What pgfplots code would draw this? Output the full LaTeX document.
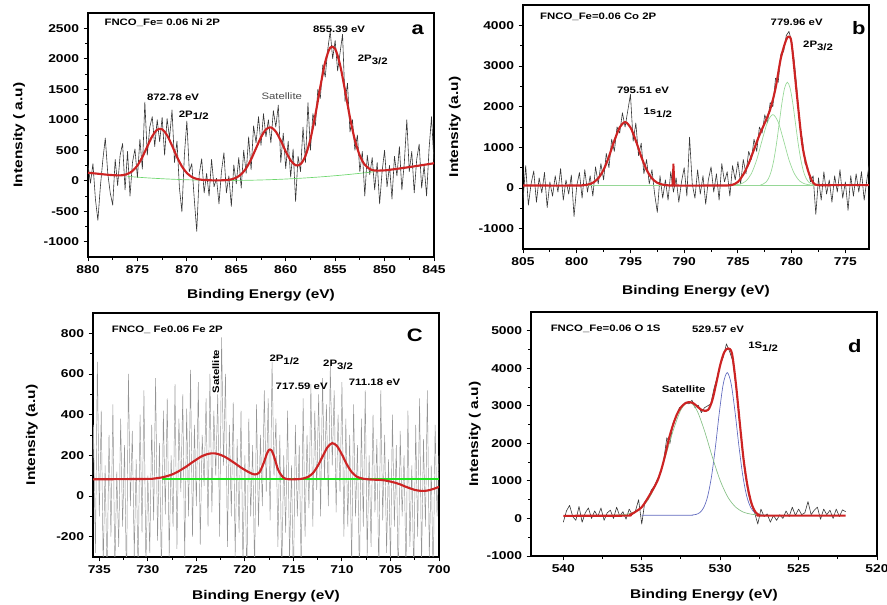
\documentclass[border=0pt]{standalone}
\usepackage{fontspec}
\setmainfont{Liberation Sans}[FakeStretch=1.22]
\usepackage{pgfplots}
\pgfplotsset{compat=1.18}

\definecolor{fitred}{RGB}{205,35,35}
\definecolor{basegreen}{RGB}{110,215,110}
\definecolor{compgreen}{RGB}{150,215,150}
\definecolor{brightgreen}{RGB}{30,230,30}
\definecolor{compblue}{RGB}{95,105,190}
\definecolor{datagray}{RGB}{55,55,55}

\newcommand{\sub}[1]{\raisebox{-0.55ex}{#1}}

\tikzset{
  pk/.style={font=\bfseries\fontsize{7}{8}\selectfont},
  ttl/.style={font=\bfseries\fontsize{7}{8}\selectfont, anchor=west},
  letter/.style={font=\bfseries\fontsize{13.5}{14}\selectfont},
}

\pgfplotsset{
  xpspanel/.style={
    scale only axis, width=259.5pt, height=183pt, anchor=north west,
    x dir=reverse, tick align=outside, tick pos=left, minor tick num=1,
    axis line style={line width=0.9pt},
    every tick/.append style={line width=0.7pt, black},
    major tick length=3.2pt, minor tick length=2pt,
    tick label style={font=\bfseries\fontsize{8.5}{9}\selectfont},
    /pgf/number format/assume math mode=true,
    /pgf/number format/1000 sep={},
    label style={font=\bfseries\fontsize{9.5}{11}\selectfont},
    xlabel={Binding Energy (eV)},
  },
  datastyle/.style={draw=datagray, line width=0.45pt, line join=round},
  fitstyle/.style={draw=fitred, line width=1.6pt, line join=round, smooth},
}

\begin{document}
\begin{tikzpicture}
\useasboundingbox (0,0) rectangle (665.25pt,-453.75pt);

% ---------------- (a) Ni 2p ----------------
\begin{axis}[xpspanel, at={(66pt,-9.75pt)},
  xmin=845, xmax=880, ymin=-1250, ymax=2750,
  xtick={845,850,...,880}, ytick={-1000,-500,...,2500},
  ylabel={Intensity ( a.u)},
  x label style={at={(axis description cs:0.5,-0.155)}, anchor=center},
  y label style={at={(axis description cs:-0.199,0.5)}, anchor=center}]
\addplot[datastyle] coordinates {
(880,260)(879.75,-40)(879.5,280)(879.25,-300)(879,-650)(878.75,-100)(878.5,340)(878.25,700)(878,120)(877.75,-200)(877.5,-400)(877.25,350)(877,-80)(876.75,420)(876.5,610)(876.25,-150)(876,480)(875.75,-250)(875.5,300)(875.25,520)(875,50)(874.75,680)(874.5,190)(874.25,1290)(874,420)(873.75,880)(873.5,1050)(873.25,560)(873,1000)(872.75,640)(872.5,1040)(872.25,420)(872,1020)(871.75,700)(871.5,1160)(871.25,300)(871,650)(870.75,-120)(870.5,-510)(870.25,420)(870,980)(869.75,150)(869.5,280)(869.25,-300)(869,-830)(868.75,100)(868.5,360)(868.25,-200)(868,120)(867.75,-250)(867.5,350)(867.25,-100)(867,40)(866.75,-380)(866.5,150)(866.25,460)(866,-200)(865.75,80)(865.5,-420)(865.25,260)(865,-50)(864.75,380)(864.5,-120)(864.25,500)(864,120)(863.75,720)(863.5,180)(863.25,900)(863,620)(862.75,1050)(862.5,580)(862.25,1100)(862,720)(861.75,1000)(861.5,620)(861.25,1150)(861,880)(860.75,1240)(860.5,300)(860.25,780)(860,200)(859.75,650)(859.5,60)(859.25,520)(859,-340)(858.75,400)(858.5,150)(858.25,880)(858,300)(857.75,1280)(857.5,500)(857.25,1100)(857,900)(856.75,1500)(856.5,1350)(856.25,1900)(856,1700)(855.75,2150)(855.5,2450)(855.25,2000)(855,2300)(854.75,1800)(854.5,2100)(854.25,2400)(854,1300)(853.75,1600)(853.5,800)(853.25,1000)(853,500)(852.75,750)(852.5,150)(852.25,480)(852,-250)(851.75,420)(851.5,100)(851.25,380)(851,-150)(850.75,300)(850.5,-380)(850.25,150)(850,500)(849.75,-100)(849.5,250)(849.25,-300)(849,400)(848.75,80)(848.5,560)(848.25,-150)(848,300)(847.75,1000)(847.5,150)(847.25,480)(847,-200)(846.75,350)(846.5,600)(846.25,-120)(846,250)(845.75,-250)(845.5,520)(845.25,1050)(845,300)};
\addplot[draw=basegreen, line width=0.5pt, smooth] coordinates {
(876,71)(874,47)(872,29)(870,16)(868,8)(866,5)(864,7)(862,15)(860,28)(858,46)(856,69)(854,97)(852,130)(851,149)};
\addplot[fitstyle] coordinates {
(880,132)(879.5,123)(879,115)(878.5,106)(878,98)(877.5,92)(877,88)(876.5,91)(876,112)(875.5,160)(875,250)(874.5,389)(874,562)(873.5,730)(873,837)(872.5,844)(872,746)(871.5,577)(871,392)(870.5,235)(870,127)(869.5,62)(869,30)(868.5,16)(868,10)(867.5,7)(867,6)(866.5,7)(866,11)(865.5,23)(865,51)(864.5,107)(864,205)(863.5,351)(863,533)(862.5,712)(862,841)(861.5,876)(861,805)(860.5,657)(860,482)(859.5,334)(859,254)(858.5,271)(858,409)(857.5,683)(857,1080)(856.5,1539)(856,1949)(855.5,2183)(855,2163)(854.5,1898)(854,1481)(853.5,1036)(853,665)(852.5,409)(852,262)(851.5,193)(851,168)(850,170)(849,190)(848,212)(847,236)(846,261)(845,287)};
\node[ttl] at (axis cs:878.8,2590) {FNCO\_Fe= 0.06 Ni 2P};
\node[pk] at (axis cs:854.6,2487) {855.39 eV};
\node[pk] at (axis cs:851.2,1980) {2P\sub{3/2}};
\node[pk] at (axis cs:871.4,1375) {872.78 eV};
\node[pk] at (axis cs:869.3,1073) {2P\sub{1/2}};
\node[font=\fontsize{7}{8}\selectfont, text=black!70] at (axis cs:860.4,1386) {Satellite};
\node[letter] at (axis cs:846.65,2475) {a};
\end{axis}

% ---------------- (b) Co 2p ----------------
\begin{axis}[xpspanel, at={(392.25pt,-3.75pt)},
  xmin=772.8, xmax=805, ymin=-1500, ymax=4500,
  xtick={775,780,...,805}, ytick={-1000,0,...,4000},
  ylabel={Intensity (a.u)},
  x label style={at={(axis description cs:0.5,-0.173)}, anchor=center},
  y label style={at={(axis description cs:-0.197,0.5)}, anchor=center}]
\addplot[datastyle] coordinates {
(805,-300)(804.75,550)(804.5,-420)(804.25,100)(804,420)(803.75,-350)(803.5,250)(803.25,-120)(803,380)(802.75,-480)(802.5,150)(802.25,-200)(802,300)(801.75,-100)(801.5,480)(801.25,-300)(801,200)(800.75,-150)(800.5,320)(800.25,-700)(800,50)(799.75,380)(799.5,-250)(799.25,450)(799,-100)(798.75,300)(798.5,-200)(798.25,520)(798,100)(797.75,600)(797.5,200)(797.25,850)(797,500)(796.75,1200)(796.5,900)(796.25,1500)(796,1350)(795.75,1850)(795.5,1500)(795.25,1900)(795,2300)(794.75,1150)(794.5,1600)(794.25,800)(794,1100)(793.75,350)(793.5,700)(793.25,100)(793,450)(792.75,-150)(792.5,-600)(792.25,300)(792,-250)(791.75,200)(791.5,-300)(791.25,400)(791,-100)(790.75,250)(790.5,-350)(790.25,150)(790,500)(789.75,-200)(789.5,1250)(789.25,100)(789,-250)(788.75,450)(788.5,-150)(788.25,300)(788,-400)(787.75,200)(787.5,520)(787.25,-100)(787,350)(786.75,-300)(786.5,600)(786.25,150)(786,400)(785.75,-200)(785.5,550)(785.25,200)(785,650)(784.75,100)(784.5,700)(784.25,350)(784,900)(783.75,700)(783.5,1200)(783.25,900)(783,1500)(782.75,1350)(782.5,1800)(782.25,1600)(782,2100)(781.75,2000)(781.5,2700)(781.25,2600)(781,3300)(780.75,3350)(780.5,3750)(780.25,3850)(780,3600)(779.75,3100)(779.5,2400)(779.25,1500)(779,1200)(778.75,600)(778.5,500)(778.25,150)(778,300)(777.75,-650)(777.5,250)(777.25,-300)(777,400)(776.75,-150)(776.5,200)(776.25,-350)(776,300)(775.75,-100)(775.5,450)(775.25,-250)(775,150)(774.75,-550)(774.5,300)(774.25,-200)(774,350)(773.75,-100)(773.5,400)(773.25,-300)(773,200)(772.8,550)};
\addplot[draw=compgreen, line width=0.5pt] coordinates {(800,60)(772.8,60)};
\addplot[draw=compgreen, line width=0.5pt, smooth] coordinates {
(782.9,73)(782.65,98)(782.4,142)(782.15,236)(781.9,412)(781.65,701)(781.4,1110)(781.15,1604)(780.9,2096)(780.65,2463)(780.4,2600)(780.15,2463)(779.9,2096)(779.65,1604)(779.4,1110)(779.15,701)(778.9,412)(778.65,236)(778.4,142)(778.15,98)(777.9,73)};
\addplot[draw=compgreen, line width=0.5pt, smooth] coordinates {
(785.25,77)(784.75,99)(784.25,172)(783.75,353)(783.25,695)(782.75,1172)(782.25,1619)(781.75,1805)(781.25,1619)(780.75,1172)(780.25,695)(779.75,353)(779.25,172)(778.75,99)(778.25,77)};
\addplot[fitstyle] coordinates {
(805,60)(800,60)(799.5,66)(799,82)(798.5,128)(798,238)(797.5,449)(797,774)(796.5,1163)(796,1490)(795.5,1620)(795,1490)(794.5,1163)(794,774)(793.5,449)(793,238)(792.5,128)(792,82)(791.5,66)(791,60)(787,60)(786,62)(785.5,80)(785,150)(784.5,330)(784,600)(783.5,950)(783,1300)(782.5,1600)(782,1930)(781.5,2450)(781,3200)(780.5,3650)(780.25,3720)(780,3550)(779.5,2260)(779,1050)(778.5,450)(778,130)(777.5,70)(776,70)(772.8,70)};
\addplot[draw=fitred, line width=1.4pt] coordinates {(791.1,60)(791.0,600)(790.9,60)};
\node[ttl] at (axis cs:803.84,4212) {FNCO\_Fe=0.06 Co 2P};
\node[pk] at (axis cs:779.53,4080) {779.96 eV};
\node[pk] at (axis cs:777.54,3488) {2P\sub{3/2}};
\node[pk] at (axis cs:793.83,2404) {795.51 eV};
\node[pk] at (axis cs:792.46,1847) {1s\sub{1/2}};
\node[letter] at (axis cs:773.75,3941) {b};
\end{axis}

% ---------------- (c) Fe 2p ----------------
\begin{axis}[xpspanel, at={(69.75pt,-234.75pt)},
  xmin=700, xmax=735.65, ymin=-300, ymax=900,
  xtick={700,705,...,735}, ytick={-200,0,...,800},
  ylabel={Intensity (a.u)},
  x label style={at={(axis description cs:0.5,-0.16)}, anchor=center},
  y label style={at={(axis description cs:-0.177,0.5)}, anchor=center}]
\addplot[draw=black!42, line width=0.35pt] coordinates {
(736,200)(735.8,-150)(735.6,350)(735.4,-280)(735.2,660)(735,-100)(734.8,420)(734.6,-350)(734.4,150)(734.2,-420)(734,300)(733.8,-200)(733.6,450)(733.4,-380)(733.2,120)(733,-250)(732.8,380)(732.6,-150)(732.4,250)(732.2,-450)(732,600)(731.8,-50)(731.6,320)(731.4,-300)(731.2,180)(731,-400)(730.8,400)(730.6,-180)(730.4,520)(730.2,-350)(730,100)(729.8,-280)(729.6,350)(729.4,-120)(729.2,580)(729,-220)(728.8,260)(728.6,-400)(728.4,420)(728.2,-90)(728,480)(727.8,-300)(727.6,200)(727.4,-150)(727.2,550)(727,-260)(726.8,380)(726.6,20)(726.4,500)(726.2,-320)(726,430)(725.8,-100)(725.6,620)(725.4,-200)(725.2,350)(725,-50)(724.8,560)(724.6,-240)(724.4,300)(724.2,50)(724,480)(723.8,-150)(723.6,600)(723.4,-80)(723.2,420)(723,100)(722.8,500)(722.6,-200)(722.4,780)(722.2,150)(722,600)(721.8,-250)(721.6,350)(721.4,-100)(721.2,460)(721,-300)(720.8,280)(720.6,-180)(720.4,420)(720.2,-350)(720,200)(719.8,-420)(719.6,380)(719.4,-100)(719.2,250)(719,-380)(718.8,450)(718.6,-150)(718.4,300)(718.2,-50)(718,520)(717.8,20)(717.6,480)(717.4,-120)(717.2,660)(717,100)(716.8,380)(716.6,-250)(716.4,300)(716.2,-400)(716,200)(715.8,-180)(715.6,420)(715.4,-320)(715.2,150)(715,-450)(714.8,350)(714.6,-100)(714.4,250)(714.2,-380)(714,480)(713.8,-200)(713.6,300)(713.4,-60)(713.2,550)(713,-150)(712.8,420)(712.6,30)(712.4,500)(712.2,-100)(712,580)(711.8,80)(711.6,450)(711.4,-50)(711.2,640)(711,150)(710.8,520)(710.6,-80)(710.4,400)(710.2,20)(710,560)(709.8,-200)(709.6,380)(709.4,-150)(709.2,300)(709,-350)(708.8,450)(708.6,-100)(708.4,250)(708.2,-420)(708,380)(707.8,-150)(707.6,520)(707.4,-300)(707.2,200)(707,-250)(706.8,400)(706.6,-80)(706.4,280)(706.2,-400)(706,520)(705.8,-120)(705.6,300)(705.4,-280)(705.2,180)(705,-350)(704.8,400)(704.6,-150)(704.4,250)(704.2,-450)(704,320)(703.8,-100)(703.6,200)(703.4,-380)(703.2,420)(703,-250)(702.8,150)(702.6,-400)(702.4,350)(702.2,-200)(702,480)(701.8,-350)(701.6,280)(701.4,-150)(701.2,520)(701,-300)(700.8,150)(700.6,-420)(700.4,350)(700.2,-100)(700,200)};
\addplot[color=brightgreen, line width=1.3pt] coordinates {(728.5,82)(700,82)};
\addplot[fitstyle] coordinates {
(735.65,82)(730,84)(729.5,85)(729,88)(728.5,92)(728,98)(727.5,106)(727,117)(726.5,131)(726,146)(725.5,163)(725,179)(724.5,194)(724,204)(723.5,209.5)(723,209)(722.5,202)(722,191)(721.5,176)(721,160)(720.5,143)(720,128)(719.5,115)(719,106)(718.5,116)(718,170)(717.75,206)(717.5,228)(717.25,224)(717,195)(716.75,155)(716.5,121)(716,89)(715.5,82.5)(715,82)(714.5,83)(714,86)(713.5,94)(713,112)(712.5,147)(712,194)(711.5,239)(711,260)(710.5,245)(710,204)(709.5,156)(709,118)(708.5,96)(708,87)(707.5,83)(707,81)(706.5,80)(706,79)(705.5,76)(705,71)(704.5,65)(704,57)(703.5,47)(703,38)(702.5,30)(702,26)(701.5,25)(701,29)(700.5,36)(700,45)};
\node[ttl] at (axis cs:734.18,816) {FNCO\_ Fe0.06 Fe 2P};
\node[pk, rotate=90] at (axis cs:723.0,612) {Satellite};
\node[pk] at (axis cs:715.93,668) {2P\sub{1/2}};
\node[pk] at (axis cs:714.15,542) {717.59 eV};
\node[pk] at (axis cs:710.4,645) {2P\sub{3/2}};
\node[pk] at (axis cs:706.64,558) {711.18 eV};
\node[letter] at (axis cs:702.5,788) {C};
\end{axis}

% ---------------- (d) O 1s ----------------
\begin{axis}[xpspanel, at={(398.25pt,-234pt)},
  xmin=520, xmax=542.06, ymin=-1000, ymax=5500,
  xtick={520,525,...,540}, ytick={-1000,0,...,5000},
  ylabel={Intensity ( a.u)},
  x label style={at={(axis description cs:0.5,-0.16)}, anchor=center},
  y label style={at={(axis description cs:-0.162,0.5)}, anchor=center}]
\addplot[datastyle] coordinates {
(540,-100)(539.8,200)(539.6,350)(539.4,50)(539.2,-50)(539,320)(538.8,-100)(538.6,150)(538.4,280)(538.2,0)(538,200)(537.8,50)(537.6,280)(537.4,-50)(537.2,150)(537,220)(536.8,0)(536.6,300)(536.4,60)(536.2,180)(536,-20)(535.8,250)(535.6,100)(535.4,200)(535.2,500)(535,-150)(534.8,450)(534.6,500)(534.4,750)(534.2,860)(534,1050)(533.8,1200)(533.6,1550)(533.4,2150)(533.2,2000)(533,2550)(532.8,2700)(532.6,2950)(532.4,3000)(532.2,3100)(532,3050)(531.8,3150)(531.6,2950)(531.4,3020)(531.2,2820)(531,2950)(530.8,3000)(530.6,3050)(530.4,3450)(530.2,3750)(530,4100)(529.8,4300)(529.6,4650)(529.4,4450)(529.2,4200)(529,3550)(528.8,2850)(528.6,1850)(528.4,1150)(528.2,650)(528,350)(527.8,150)(527.6,-150)(527.4,250)(527.2,50)(527,120)(526.8,-100)(526.6,80)(526.4,-50)(526.2,100)(526,0)(525.8,200)(525.6,50)(525.4,300)(525.2,80)(525,250)(524.8,100)(524.6,150)(524.4,450)(524.2,100)(524,220)(523.8,300)(523.6,-20)(523.4,250)(523.2,100)(523,220)(522.8,0)(522.6,250)(522.4,50)(522.2,230)(522,180)};
\addplot[draw=compblue, line width=0.5pt, smooth] coordinates {
(535,85)(532.05,85)(531.8,90)(531.55,106)(531.3,156)(531.05,289)(530.8,584)(530.55,1121)(530.3,1914)(530.05,2831)(529.8,3589)(529.55,3885)(529.3,3589)(529.05,2831)(528.8,1914)(528.55,1121)(528.3,584)(528.05,289)(527.8,156)(527.55,106)(527.3,90)(527.05,85)};
\addplot[draw=compgreen!90!black, line width=0.5pt, smooth] coordinates {
(537,85)(536.5,93)(536,112)(535.5,166)(535,296)(534.5,561)(534,1012)(533.5,1639)(533,2335)(532.5,2895)(532,3110)(531.5,2895)(531,2335)(530.5,1639)(530,1012)(529.5,561)(529,296)(528.5,166)(528,112)(527.5,93)(527,85)};
\addplot[fitstyle] coordinates {
(540,70)(536,75)(535.75,100)(535.5,150)(535.25,220)(535,300)(534.75,450)(534.5,620)(534.25,800)(534,1000)(533.75,1300)(533.5,1700)(533.25,2150)(533,2500)(532.75,2780)(532.5,2960)(532.25,3060)(532,3100)(531.75,3080)(531.5,3000)(531.25,2910)(531,2870)(530.75,2900)(530.5,3150)(530.25,3600)(530,4080)(529.75,4420)(529.5,4530)(529.25,4400)(529,3600)(528.75,2550)(528.5,1550)(528.25,850)(528,400)(527.75,170)(527.5,90)(527.25,75)(522,75)};
\node[ttl] at (axis cs:541.1,5040) {FNCO\_Fe=0.06 O 1S};
\node[pk] at (axis cs:530.13,5040) {529.57 eV};
\node[pk] at (axis cs:527.26,4576) {1S\sub{1/2}};
\node[pk] at (axis cs:532.33,3440) {Satellite};
\node[letter] at (axis cs:521.42,4595) {d};
\end{axis}
\end{tikzpicture}
\end{document}
